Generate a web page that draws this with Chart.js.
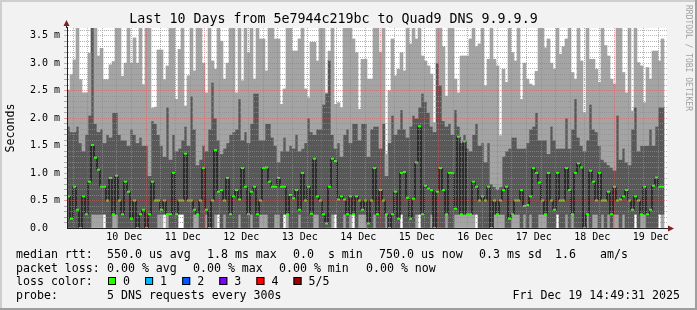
<!DOCTYPE html>
<html>
<head>
<meta charset="utf-8">
<title>Smokeping - Quad9 DNS</title>
<script src="https://cdn.jsdelivr.net/npm/chart.js@4/dist/chart.umd.min.js"></script>
<style>
  html, body { margin: 0; padding: 0; background: #f2f2f2; }
  #wrap { width: 697px; height: 310px; }
</style>
</head>
<body>
<div id="wrap"><canvas id="chart" width="697" height="310"></canvas></div>
<script>
/**
 * Smokeping style RTT graph, 10 days, 72 minute slots (3px each)
 * All values in ms
 */

const dayLabels = ['10 Dec', '11 Dec', '12 Dec', '13 Dec', '14 Dec',
                   '15 Dec', '16 Dec', '17 Dec', '18 Dec', '19 Dec'];

// slowest of the 5 requests (top of the smoke, clipped at the graph top)
const pingMax = [
  2.51, 2.79, 3.06, 3.8, 2.70, 2.46, 2.46, 3.18, 3.8, 3.8,
  3.13, 3.27, 2.70, 2.70, 2.97, 3.03, 3.8, 3.8, 2.76, 3.0,
  3.8, 3.0, 3.46, 3.0, 3.8, 2.61, 3.8, 3.8, 2.18, 2.2,
  3.24, 3.24, 2.7, 2.95, 3.8, 3.8, 2.34, 3.25, 3.8, 2.22,
  2.77, 3.8, 2.86, 3.8, 3.8, 3.0, 2.46, 3.8, 3.04, 2.89,
  3.8, 3.4, 2.71, 3.0, 3.8, 3.8, 2.46, 3.8, 2.68, 3.8,
  3.19, 3.8, 2.71, 3.8, 3.44, 3.44, 2.86, 3.8, 3.8, 3.44,
  3.44, 2.25, 2.53, 3.8, 3.8, 3.22, 3.22, 3.44, 3.8, 2.53,
  2.37, 3.38, 3.38, 3.04, 3.8, 3.8, 2.46, 3.22, 3.8, 2.25,
  2.28, 2.19, 3.8, 3.8, 3.8, 3.44, 3.19, 2.16, 3.07, 3.07,
  2.71, 2.71, 3.8, 3.8, 3.2, 3.8, 1.35, 2.5, 3.44, 2.77,
  2.89, 3.19, 2.86, 3.8, 3.35, 3.8, 3.44, 3.8, 3.13, 3.04,
  2.95, 2.8, 1.92, 3.8, 3.8, 3.3, 2.4, 3.8, 3.8, 2.71,
  2.46, 3.13, 3.13, 3.13, 3.44, 3.8, 3.3, 3.35, 3.8, 2.59,
  3.07, 3.8, 3.07, 2.95, 1.68, 2.89, 2.65, 3.8, 3.19, 3.04,
  3.8, 2.34, 3.0, 2.71, 2.62, 2.59, 2.85, 3.8, 3.8, 3.28,
  3.44, 3.0, 2.89, 3.8, 3.16, 3.3, 3.44, 3.8, 2.83, 2.71,
  3.8, 3.04, 2.1, 3.8, 3.07, 3.07, 2.89, 2.65, 3.8, 3.32,
  3.13, 2.71, 2.62, 3.8, 3.8, 2.83, 2.46, 3.8, 2.13, 3.8,
  3.01, 2.95, 2.28, 2.92, 2.71, 3.22, 3.22, 3.04, 3.44
];

// 4th of 5 (top of the dark smoke)
const pingHigh = [
  1.85, 1.75, 1.75, 1.85, 1.55, 1.4, 1.7, 2.05, 3.8, 1.9,
  1.75, 1.8, 1.55, 1.7, 1.65, 2.1, 2.1, 1.7, 1.6, 1.6,
  1.5, 1.8, 1.7, 1.55, 1.65, 1.5, 1.5, 0.95, 1.95, 1.9,
  1.7, 1.5, 1.3, 2.2, 1.25, 1.7, 1.4, 1.45, 1.6, 1.85,
  1.5, 2.4, 1.8, 1.15, 1.25, 1.5, 1.4, 1.8, 2.65, 2.0,
  1.6, 1.35, 1.45, 1.55, 1.7, 1.75, 1.8, 2.35, 1.6, 1.75,
  1.55, 1.9, 2.45, 2.45, 1.6, 1.6, 1.9, 1.9, 1.65, 1.5,
  1.2, 1.4, 1.65, 1.4, 1.5, 1.45, 1.7, 1.4, 1.45, 1.55,
  2.0, 1.75, 1.7, 1.8, 1.8, 2.25, 2.45, 3.05, 1.7, 1.45,
  1.55, 1.3, 1.7, 1.8, 1.55, 1.9, 1.9, 1.6, 1.9, 1.9,
  1.3, 1.8, 1.85, 1.85, 1.45, 1.9, 0.95, 1.55, 2.05, 1.7,
  1.8, 2.15, 1.8, 1.65, 1.85, 2.05, 2.0, 2.2, 2.45, 2.3,
  2.1, 1.85, 1.75, 3.0, 2.6, 1.95, 1.85, 1.9, 1.7, 2.15,
  1.85, 1.55, 1.7, 1.45, 1.4, 1.7, 1.9, 1.5, 1.55, 1.2,
  1.55, 0.8, 0.75, 0.7, 0.75, 1.3, 1.4, 1.45, 1.65, 1.65,
  1.45, 1.45, 1.45, 1.55, 1.8, 1.85, 2.1, 1.6, 1.6, 1.6,
  1.35, 1.85, 1.6, 1.45, 1.45, 1.45, 2.0, 1.45, 1.8, 2.35,
  1.65, 1.5, 1.4, 1.6, 2.25, 1.8, 1.75, 1.5, 1.25, 1.2,
  1.15, 1.1, 1.05, 2.05, 1.25, 1.45, 1.2, 1.15, 1.8, 2.2,
  1.4, 1.5, 1.5, 1.5, 1.8, 1.5, 1.85, 2.2, 2.2
];

// median rtt
const medianRtt = [
  0.58, 0.17, 0.75, 0.33, 0, 0.58, 0.25, 0.84, 1.51, 1.28,
  1.06, 0.75, 0.75, 0.5, 0.91, 0.25, 0.95, 0.5, 0.25, 0.84,
  0.66, 0.17, 0.5, 0, 0.25, 0.33, 0, 0.25, 0.84, 0.5,
  0.5, 0.33, 0.5, 0.25, 0.25, 1.0, 0.25, 0.5, 0.5, 1.35,
  0.5, 0.5, 0.33, 0.25, 0.5, 1.09, 0.33, 0, 0.5, 1.42,
  0.66, 0.69, 0.5, 0.91, 0.25, 0.58, 0.69, 0.52, 1.09, 0.75,
  0.25, 0.66, 0.75, 0.25, 0.5, 1.09, 1.1, 0.84, 0.75, 0.75,
  0.91, 0.75, 0.75, 0.25, 0.6, 0.54, 0.69, 0.33, 1.0, 0.5,
  0.75, 0.26, 1.26, 0.58, 0.5, 0.25, 0.08, 0.75, 1.26, 1.22,
  0.52, 0.58, 0.52, 0.25, 0.58, 0.25, 0.58, 0.5, 0.33, 0.5,
  0.08, 0.5, 1.09, 0.25, 0.69, 0.5, 0.25, 0, 0.25, 0.66,
  0.17, 1.0, 1.02, 0.55, 0.17, 0.53, 1.19, 1.85, 0.25, 0.77,
  0.72, 0.69, 0, 0.66, 1.09, 0.69, 0.25, 1.0, 1.0, 0.35,
  1.66, 0.25, 1.58, 0.25, 0.25, 0.84, 0.75, 0.5, 0.58, 0.5,
  0.75, 0, 0.5, 0.25, 0.5, 0.69, 0.75, 0.17, 0.25, 0.5,
  0.5, 0.69, 0.4, 0.42, 0.58, 1.09, 1.0, 0.83, 0.5, 0.25,
  1.0, 0.5, 0.33, 1.0, 0.5, 0.5, 1.09, 0.69, 0.25, 1.0,
  1.18, 1.1, 0, 0.25, 1.04, 0.84, 0.5, 1.0, 0.5, 0.5,
  0.66, 0.25, 0.75, 0.5, 0.52, 0.58, 0.69, 0.5, 0.33, 0.58,
  0.5, 0.25, 0.75, 0.25, 0.33, 0.77, 0.92, 0.75, 0.75
];

// 2nd of 5 (bottom of the dark smoke)
const pingLow = [
  0, 0, 0, 0, 0, 0, 0, 0, .25, .25,
  .25, .25, .25, 0, 0, .25, .25, 0, 0, 0,
  0, 0, 0, 0, 0, 0, 0, 0, 0, 0,
  .25, .25, .25, .25, 0, 0, 0, .25, .25, 0,
  0, 0, .25, .25, 0, 0, .25, 0, 0, .25,
  .25, 0, .25, 0, 0, 0, 0, .25, 0, 0,
  0, .25, 0, 0, .25, .25, .25, 0, 0, .25,
  .25, 0, .25, .25, 0, 0, 0, .25, 0, 0,
  0, 0, .25, .25, 0, 0, 0, 0, .25, .25,
  0, 0, .25, 0, .25, .25, 0, .25, .25, .25,
  0, 0, .25, 0, 0, 0, .25, 0, 0, 0,
  0, .25, 0, 0, 0, 0, .25, .25, 0, 0,
  0, .25, 0, 0, 0, 0, .25, 0, 0, .25,
  .25, .25, .25, .25, .25, .25, .25, 0, 0, 0,
  0, 0, .25, .25, .25, .25, 0, 0, .25, .25,
  .25, 0, .25, 0, .25, 0, 0, .25, .25, .25,
  0, 0, 0, .25, 0, 0, .25, 0, .25, 0,
  0, 0, 0, .25, 0, .25, .25, 0, .25, 0,
  .25, 0, .25, .25, 0, .25, 0, 0, 0, .25,
  0, .25, .25, 0, 0, 0, 0, .25, .25
];

// fastest of the 5 requests
const pingMin = [
  0, 0, 0, 0, 0, 0, 0, 0, 0, 0,
  0, 0, .25, 0, 0, 0, 0, 0, 0, 0,
  0, 0, 0, 0, 0, 0, 0, 0, 0, 0,
  0, 0, .25, 0, 0, 0, 0, .25, .25, 0,
  0, 0, 0, 0, 0, 0, 0, 0, 0, 0,
  .25, 0, 0, 0, 0, 0, 0, 0, 0, 0,
  0, 0, 0, 0, 0, 0, 0, 0, 0, 0,
  0, 0, .25, 0, 0, 0, 0, 0, 0, 0,
  0, 0, 0, 0, 0, 0, 0, 0, 0, .25,
  0, 0, 0, 0, 0, .25, 0, 0, 0, 0,
  0, 0, 0, 0, 0, 0, 0, 0, 0, 0,
  0, .25, 0, 0, 0, 0, 0, .25, 0, 0,
  0, 0, 0, 0, 0, 0, 0, 0, 0, 0,
  0, 0, 0, 0, 0, 0, .25, 0, 0, 0,
  0, 0, 0, 0, 0, 0, 0, 0, 0, 0,
  0, 0, 0, 0, 0, 0, 0, 0, 0, 0,
  0, 0, 0, .25, 0, 0, 0, 0, 0, 0,
  0, 0, 0, 0, 0, 0, 0, 0, 0, 0,
  0, 0, 0, 0, 0, 0, 0, 0, 0, .25,
  0, 0, 0, 0, 0, 0, 0, .25, 0
];

const lossColors = ['#26ff00', '#00b8ff', '#0059ff', '#7e00ff', '#ff0000', '#a10000'];
const lossLabels = ['0', '1', '2', '3', '4', '5/5'];

// time axis in hours since Dec 9 00:00
const hourMin = 15.6;
const hourMax = 255.6;
const hourTicks = [];
for (let h = 18; h <= 252; h += 6) hourTicks.push(h);
const yTicks = [];
for (let i = 0; i <= 36; i++) yTicks.push(i / 10);

const MONO = "'DejaVu Sans Mono', monospace";
const GRID = 'rgba(143,143,143,0.7)';
const MGRID = 'rgba(222,79,79,0.5)';

const slots = Array.from({ length: 200 }, (_, i) => i);

function band(lo, hi) {
  return lo.map((v, i) => (hi[i] > v ? [v, hi[i]] : null));
}

/**
 * Draws the rrdtool frame, arrows, legend block and watermark
 */
const rrdDecor = {
  id: 'rrdDecor',
  beforeDraw(chart) {
    const { ctx, chartArea: a } = chart;
    ctx.save();
    ctx.fillStyle = '#f2f2f2';
    ctx.fillRect(0, 0, 697, 310);
    ctx.fillStyle = '#cecece';
    ctx.fillRect(0, 0, 697, 2);
    ctx.fillRect(0, 0, 2, 310);
    ctx.fillStyle = '#9e9e9e';
    ctx.fillRect(0, 308, 697, 2);
    ctx.fillRect(695, 0, 2, 310);
    ctx.fillStyle = '#ffffff';
    ctx.fillRect(a.left, a.top, a.right - a.left, a.bottom - a.top);
    ctx.restore();
  },
  afterDraw(chart) {
    const { ctx, chartArea: a } = chart;
    ctx.save();

    // axis extensions + arrows
    ctx.strokeStyle = '#1f1f1f';
    ctx.lineWidth = 1;
    ctx.beginPath();
    ctx.moveTo(a.left - 0.5, a.top);
    ctx.lineTo(a.left - 0.5, 25);
    ctx.moveTo(a.right, a.bottom + 0.5);
    ctx.lineTo(669, a.bottom + 0.5);
    ctx.stroke();
    ctx.fillStyle = '#801f1f';
    ctx.beginPath();
    ctx.moveTo(a.left - 3.5, 26);
    ctx.lineTo(a.left + 2.5, 26);
    ctx.lineTo(a.left - 0.5, 20);
    ctx.closePath();
    ctx.fill();
    ctx.beginPath();
    ctx.moveTo(668, a.bottom - 2.5);
    ctx.lineTo(668, a.bottom + 3.5);
    ctx.lineTo(674, a.bottom + 0.5);
    ctx.closePath();
    ctx.fill();

    // legend
    ctx.fillStyle = '#000';
    ctx.font = '11.6px ' + MONO;
    ctx.textBaseline = 'middle';
    ctx.textAlign = 'left';
    const rows = [
      [255, [['median rtt:', 16], ['550.0 us avg', 107], ['1.8 ms max', 207], ['0.0  s min', 293],
             ['750.0 us now', 379], ['0.3 ms sd', 479], ['1.6', 555], ['am/s', 600]]],
      [268.5, [['packet loss:', 16], ['0.00 % avg', 107], ['0.00 % max', 193], ['0.00 % min', 279],
               ['0.00 % now', 366]]],
      [282, [['loss color:', 16]]],
      [295.5, [['probe:', 16], ['5 DNS requests every 300s', 107]]]
    ];
    rows.forEach(([y, items]) => {
      items.forEach(([txt, x]) => ctx.fillText(txt, x, y));
    });
    lossColors.forEach((c, i) => {
      const bx = 108 + i * 37.1;
      ctx.fillStyle = c;
      ctx.fillRect(bx, 277, 8, 8);
      ctx.strokeStyle = '#000';
      ctx.strokeRect(bx + 0.5, 277.5, 7, 7);
      ctx.fillStyle = '#000';
      ctx.fillText(lossLabels[i], bx + 15, 282);
    });
    ctx.textAlign = 'right';
    ctx.fillText('Fri Dec 19 14:49:31 2025', 680, 295.5);

    // watermark
    ctx.translate(688.5, 5);
    ctx.rotate(Math.PI / 2);
    ctx.textAlign = 'left';
    ctx.fillStyle = '#a0a0a0';
    ctx.font = '8px ' + MONO;
    ctx.fillText('RRDTOOL / TOBI OETIKER', 0, 0);
    ctx.restore();
  }
};

const ctx = document.getElementById('chart').getContext('2d');
new Chart(ctx, {
  type: 'bar',
  data: {
    labels: slots,
    datasets: [
      {
        type: 'line',
        data: medianRtt,
        stepped: 'middle',
        borderColor: '#000',
        borderWidth: 1,
        pointStyle: 'line',
        pointRadius: 1.5,
        pointHoverRadius: 1.5,
        pointBorderWidth: 2,
        pointBorderColor: lossColors[0],
        pointBackgroundColor: lossColors[0],
        order: 0
      },
      { data: band(pingHigh, pingMax), backgroundColor: '#a4a4a4', order: 1 },
      { data: band(pingLow, pingHigh), backgroundColor: '#585858', order: 2 },
      { data: band(pingMin, pingLow), backgroundColor: '#a4a4a4', order: 3 }
    ]
  },
  options: {
    responsive: false,
    animation: false,
    devicePixelRatio: 1,
    layout: { padding: { left: 0, right: 30, top: 0, bottom: 0 } },
    datasets: {
      bar: { grouped: false, barPercentage: 1, categoryPercentage: 1, borderWidth: 0 }
    },
    plugins: {
      legend: { display: false },
      tooltip: { enabled: false },
      title: {
        display: true,
        text: 'Last 10 Days from 5e7944c219bc to Quad9 DNS 9.9.9.9',
        color: '#000',
        font: { family: MONO, size: 13.3, weight: 'normal' },
        padding: { top: 12, bottom: 0 }
      }
    },
    scales: {
      x: { type: 'category', display: false, offset: true, grid: { display: false } },
      xh: {
        type: 'linear',
        position: 'bottom',
        min: hourMin,
        max: hourMax,
        afterBuildTicks: s => { s.ticks = hourTicks.map(v => ({ value: v })); },
        afterFit: s => { s.height = 82; },
        grid: {
          z: 1,
          drawTicks: false,
          color: c => (c.tick && c.tick.value % 24 === 0 ? MGRID : GRID)
        },
        border: { color: '#1f1f1f', dash: [1, 1], z: 2 },
        ticks: {
          autoSkip: false,
          maxRotation: 0,
          minRotation: 0,
          padding: 3,
          color: '#000',
          font: { family: MONO, size: 10 },
          callback: v => (v % 24 === 12 ? dayLabels[(v - 36) / 24] : '')
        }
      },
      y: {
        min: 0,
        max: 3.64,
        afterBuildTicks: s => { s.ticks = yTicks.map(v => ({ value: v })); },
        afterFit: s => { s.width = 67; },
        grid: {
          z: 1,
          tickLength: 3,
          color: c => {
            const k = Math.round((c.tick ? c.tick.value : 0) * 10);
            if (k === 0) return 'rgba(0,0,0,0)';
            return k % 5 === 0 ? MGRID : GRID;
          }
        },
        border: { color: '#1f1f1f', dash: [1, 1], z: 2 },
        title: {
          display: true,
          text: 'Seconds',
          color: '#000',
          font: { family: MONO, size: 11.6 },
          padding: { top: 4, bottom: 0 }
        },
        ticks: {
          autoSkip: false,
          padding: 4,
          color: '#000',
          font: { family: MONO, size: 10 },
          callback: v => {
            const k = Math.round(v * 10);
            if (k % 5 !== 0) return '';
            return k === 0 ? '0.0  ' : (k / 10).toFixed(1) + ' m';
          }
        }
      }
    }
  },
  plugins: [rrdDecor]
});
</script>
</body>
</html>
